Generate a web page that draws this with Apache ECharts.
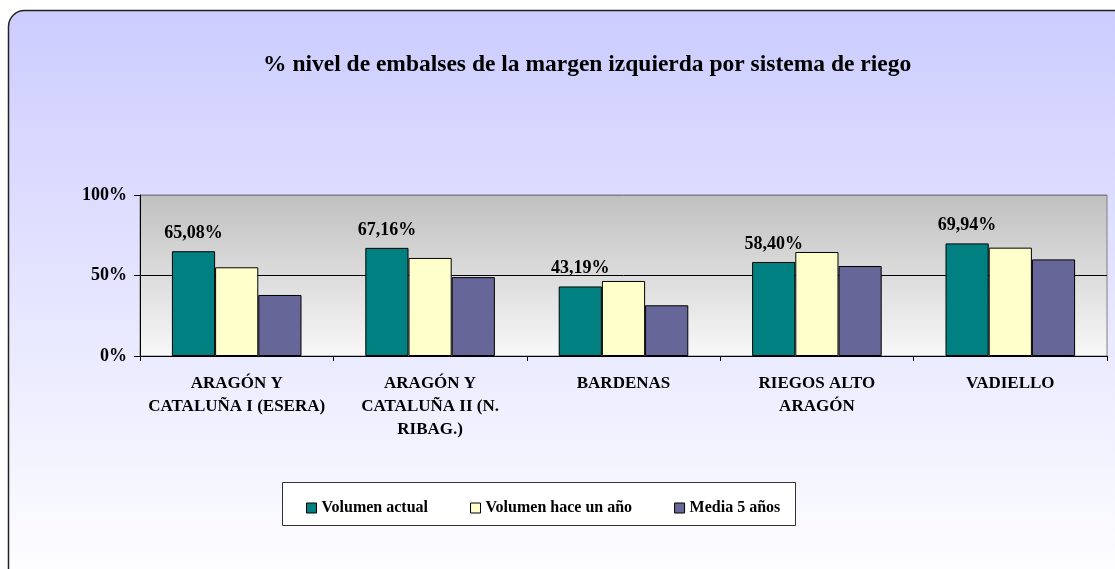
<!DOCTYPE html>
<html>
<head>
<meta charset="utf-8">
<script src="https://cdn.jsdelivr.net/npm/echarts@6/dist/echarts.min.js"></script>
<style>
  html, body { margin: 0; padding: 0; background: #fff; }
  #chart { width: 1115px; height: 569px; }
</style>
</head>
<body>
<div id="chart"></div>
<script>
// data
const categories = [
  'ARAGÓN Y\nCATALUÑA I (ESERA)',
  'ARAGÓN Y\nCATALUÑA II (N.\nRIBAG.)',
  'BARDENAS',
  'RIEGOS ALTO\nARAGÓN',
  'VADIELLO'
];
const volumenActual = [65.08, 67.16, 43.19, 58.40, 69.94];
const volumenHaceUnAno = [55.1, 60.9, 46.6, 64.6, 67.3];
const media5Anos = [37.9, 49.0, 31.5, 55.9, 60.0];
const seriesNames = ['Volumen actual', 'Volumen hace un año', 'Media 5 años'];
const yTicks = [0, 50, 100];

const FONT = "'Liberation Serif', 'Times New Roman', serif";

const chart = echarts.init(document.getElementById('chart'));

const barBorder = { borderColor: '#000', borderWidth: 1 };

const option = {
  animation: false,
  title: {
    text: '% nivel de embalses de la margen izquierda por sistema de riego',
    left: 258,
    top: 48,
    textStyle: { fontFamily: FONT, fontSize: 23.5, fontWeight: 'bold', color: '#000' }
  },
  graphic: [
    {
      type: 'rect',
      z: -10,
      shape: { x: 8.5, y: 10.5, width: 1130, height: 580, r: 16 },
      style: {
        fill: new echarts.graphic.LinearGradient(0, 0, 0, 1, [
          { offset: 0, color: '#ccccff' },
          { offset: 1, color: '#ffffff' }
        ]),
        stroke: '#222',
        lineWidth: 1.5
      }
    },
    {
      type: 'rect',
      z: -5,
      shape: { x: 282.5, y: 482.5, width: 513, height: 43 },
      style: { fill: '#fff', stroke: '#333', lineWidth: 1 }
    }
  ],
  legend: {
    data: seriesNames,
    left: 301,
    top: 495,
    itemGap: 42,
    itemWidth: 10,
    itemHeight: 10,
    icon: 'rect',
    itemStyle: { borderColor: '#000', borderWidth: 1 },
    textStyle: { fontFamily: FONT, fontSize: 16, fontWeight: 'bold', color: '#000' }
  },
  grid: {
    left: 140,
    right: 8,
    top: 195,
    bottom: 213,
    show: true,
    borderColor: '#808080',
    borderWidth: 1,
    backgroundColor: new echarts.graphic.LinearGradient(0, 0, 0, 1, [
      { offset: 0, color: '#c0c0c0' },
      { offset: 1, color: '#f8f8f8' }
    ])
  },
  xAxis: {
    type: 'category',
    data: categories,
    axisLine: { lineStyle: { color: '#000', width: 1 } },
    axisTick: { show: true, length: 5, lineStyle: { color: '#000' } },
    axisLabel: {
      interval: 0,
      margin: 16,
      lineHeight: 23,
      fontFamily: FONT,
      fontSize: 17,
      fontWeight: 'bold',
      color: '#000'
    }
  },
  yAxis: {
    type: 'value',
    min: yTicks[0],
    max: yTicks[yTicks.length - 1],
    interval: 50,
    axisLine: { show: true, lineStyle: { color: '#000', width: 1 } },
    axisTick: { show: true, length: 6, lineStyle: { color: '#000' } },
    axisLabel: {
      formatter: '{value}%',
      margin: 13,
      fontFamily: FONT,
      fontSize: 18,
      fontWeight: 'bold',
      color: '#000'
    },
    splitLine: { show: true, lineStyle: { color: ['#000', '#000', '#808080'], width: 1 } }
  },
  series: [
    {
      name: seriesNames[0],
      type: 'bar',
      data: volumenActual,
      barGap: '0%',
      barCategoryGap: '33%',
      itemStyle: Object.assign({ color: '#008080' }, barBorder),
      label: {
        show: true,
        position: 'top',
        distance: 9,
        formatter: (p) => p.value.toFixed(2).replace('.', ',') + '%',
        fontFamily: FONT,
        fontSize: 18,
        fontWeight: 'bold',
        color: '#000'
      }
    },
    {
      name: seriesNames[1],
      type: 'bar',
      data: volumenHaceUnAno,
      itemStyle: Object.assign({ color: '#ffffcc' }, barBorder)
    },
    {
      name: seriesNames[2],
      type: 'bar',
      data: media5Anos,
      itemStyle: Object.assign({ color: '#666699' }, barBorder)
    }
  ]
};

chart.setOption(option);
</script>
</body>
</html>
